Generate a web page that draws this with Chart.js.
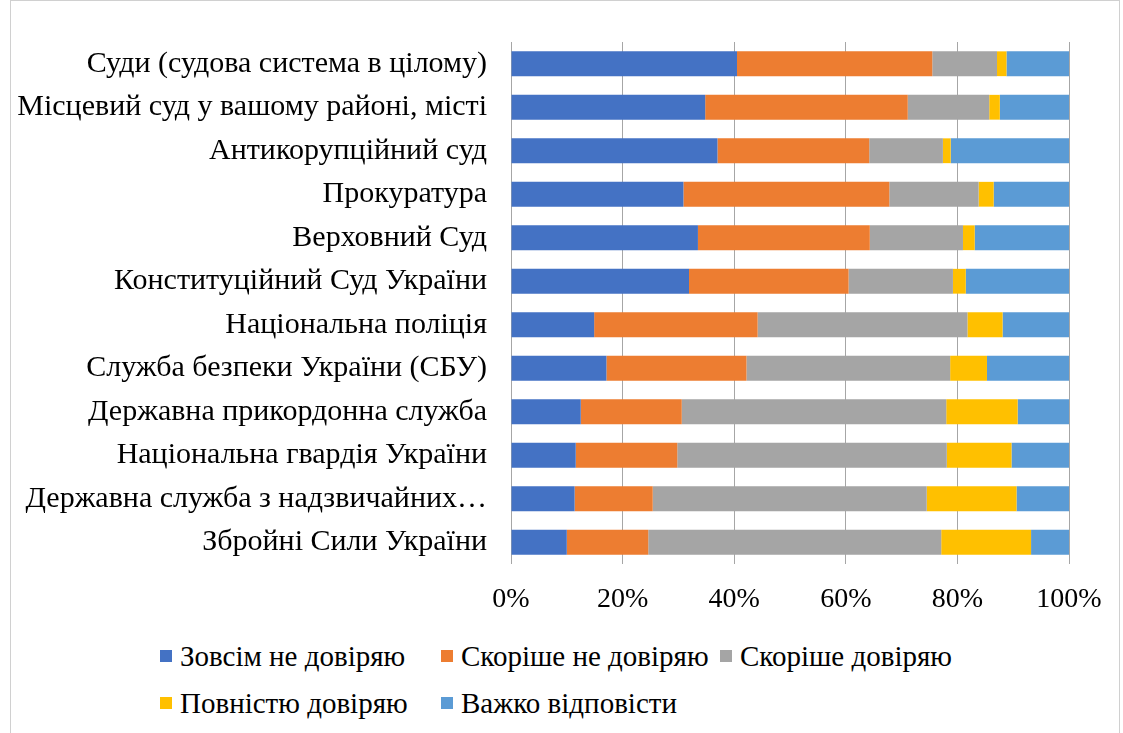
<!DOCTYPE html>
<html>
<head>
<meta charset="utf-8">
<script src="https://cdn.jsdelivr.net/npm/chart.js@4.4.1/dist/chart.umd.min.js"></script>
<style>
    html, body { margin: 0; padding: 0; background: #fff; }
    body { width: 1123px; height: 733px; position: relative; overflow: hidden; font-family: "Liberation Serif", "Times New Roman", serif; }
    .frame { position: absolute; left: 10px; top: 0; width: 1110px; height: 740px; border: 1px solid #d0d0d0; box-sizing: border-box; }
    .chart-box { position: absolute; left: 0; top: 0; width: 1123px; height: 630px; }
    .legend { position: absolute; left: 160px; top: 639px; display: grid; grid-template-columns: 281px 279px auto; row-gap: 13px; font-size: 29px; color: #000; }
    .legend span { display: flex; align-items: center; white-space: nowrap; line-height: 34px; }
    .legend i { display: inline-block; width: 12px; height: 12px; margin-right: 8px; }
</style>
</head>
<body>
<div class="frame"></div>
<div class="chart-box"><canvas id="chart"></canvas></div>
<div class="legend" id="legend"></div>
<script>
const categories = [
    'Суди (судова система в цілому)',
    'Місцевий суд у вашому районі, місті',
    'Антикорупційний суд',
    'Прокуратура',
    'Верховний Суд',
    'Конституційний Суд України',
    'Національна поліція',
    'Служба безпеки України (СБУ)',
    'Державна прикордонна служба',
    'Національна гвардія України',
    'Державна служба з надзвичайних…',
    'Збройні Сили України',
];

const seriesNames = ['Зовсім не довіряю', 'Скоріше не довіряю', 'Скоріше довіряю', 'Повністю довіряю', 'Важко відповісти'];
const seriesColors = ['#4472C4', '#ED7D31', '#A5A5A5', '#FFC000', '#5B9BD5'];

const notTrustAtAll = [40.5, 34.8, 37.0, 30.9, 33.5, 31.9, 14.9, 17.1, 12.5, 11.6, 11.4, 10.0];
const ratherNotTrust = [35.0, 36.3, 27.2, 36.9, 30.8, 28.6, 29.3, 25.1, 18.1, 18.2, 14.0, 14.6];
const ratherTrust = [11.6, 14.6, 13.2, 16.0, 16.7, 18.7, 37.6, 36.5, 47.4, 48.3, 49.1, 52.5];
const fullyTrust = [1.7, 1.9, 1.4, 2.7, 2.1, 2.3, 6.3, 6.6, 12.8, 11.6, 16.1, 16.1];
const hardToSay = [11.2, 12.4, 21.2, 13.5, 16.9, 18.5, 11.9, 14.7, 9.2, 10.3, 9.4, 6.8];

const seriesValues = [notTrustAtAll, ratherNotTrust, ratherTrust, fullyTrust, hardToSay];
const xTicks = [0, 20, 40, 60, 80, 100];

const family = '"Liberation Serif", "Times New Roman", serif';

new Chart(document.getElementById('chart'), {
    type: 'bar',
    data: {
        labels: categories,
        datasets: seriesNames.map((name, i) => ({
            label: name,
            data: seriesValues[i],
            backgroundColor: seriesColors[i],
            borderWidth: 0,
            barPercentage: 0.57,
            categoryPercentage: 1,
        })),
    },
    options: {
        indexAxis: 'y',
        responsive: true,
        maintainAspectRatio: false,
        animation: false,
        layout: { padding: { top: 39, right: 54, bottom: 0, left: 0 } },
        plugins: { legend: { display: false }, tooltip: { enabled: false } },
        scales: {
            x: {
                stacked: true,
                min: 0,
                max: 100,
                afterBuildTicks: (scale) => { scale.ticks = xTicks.map(v => ({ value: v })); },
                afterFit: (scale) => { scale.height = 66; },
                ticks: { color: '#000', font: { family, size: 28 }, padding: 19, callback: (v) => v + '%' },
                grid: { color: '#a6a6a6', lineWidth: 1, drawTicks: false },
                border: { display: false },
            },
            y: {
                stacked: true,
                afterFit: (scale) => { scale.width = 511; },
                ticks: { color: '#000', font: { family, size: 30 }, padding: 24, autoSkip: false },
                grid: { display: false, drawTicks: false },
                border: { display: false },
            },
        },
    },
});

const legend = document.getElementById('legend');
seriesNames.forEach((name, i) => {
    const item = document.createElement('span');
    item.innerHTML = '<i style="background:' + seriesColors[i] + '"></i>' + name;
    legend.appendChild(item);
});
</script>
</body>
</html>
